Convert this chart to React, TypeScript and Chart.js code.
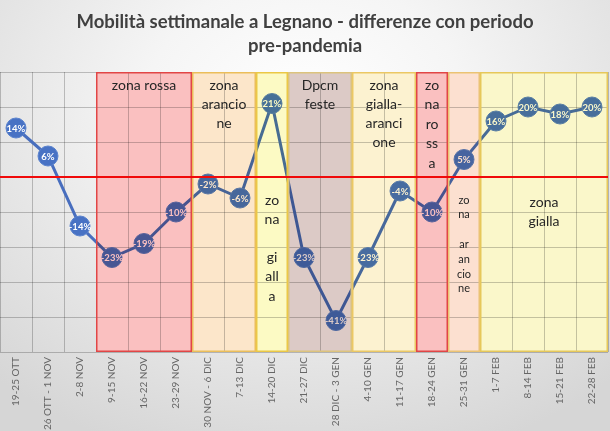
import React, { useEffect, useRef } from "react";
import { Chart, registerables } from "chart.js";

Chart.register(...registerables);

const titleLines = ["Mobilità settimanale a Legnano - differenze con periodo", "pre-pandemia"];

const weeks = [
  "19-25 OTT", "26 OTT - 1 NOV", "2-8 NOV", "9-15 NOV", "16-22 NOV", "23-29 NOV",
  "30 NOV - 6 DIC", "7-13 DIC", "14-20 DIC", "21-27 DIC", "28 DIC - 3 GEN", "4-10 GEN",
  "11-17 GEN", "18-24 GEN", "25-31 GEN", "1-7 FEB", "8-14 FEB", "15-21 FEB", "22-28 FEB",
];

const mobility = [14, 6, -14, -23, -19, -10, -2, -6, 21, -23, -41, -23, -4, -10, 5, 16, 20, 18, 20];

const yMin = -50;
const yMax = 30;
const yStep = 10;

// zones: first and last week index covered, and the label lines
const zoneFrom = [3, 6, 8, 9, 11, 13, 14, 15];
const zoneTo = [5, 7, 8, 10, 12, 13, 14, 18];
const zoneLabels = [
  ["zona rossa"],
  ["zona", "arancio", "ne"],
  ["zo", "na", "", "gi", "all", "a"],
  ["Dpcm", "feste"],
  ["zona", "gialla-", "aranci", "one"],
  ["zo", "na", "ro", "ss", "a"],
  ["zo", "na", "", "ar", "an", "cio", "ne"],
  ["zona", "gialla"],
];

// styles (kept apart from data)
const zoneFill = [
  "rgb(250, 192, 192)",
  "rgb(252, 230, 202)",
  "rgb(252, 250, 196)",
  "rgb(220, 202, 198)",
  "rgb(252, 242, 208)",
  "rgb(250, 192, 192)",
  "rgb(252, 224, 208)",
  "rgb(250, 247, 202)",
];
const zoneStroke = [
  "rgb(225, 70, 70)",
  "rgb(235, 190, 90)",
  "rgb(235, 200, 70)",
  "rgb(220, 195, 125)",
  "rgb(235, 200, 100)",
  "rgb(225, 70, 70)",
  "rgb(235, 195, 115)",
  "rgb(230, 200, 90)",
];
const zoneTextTop = [13, 13, 128, 13, 13, 13, 128, 130];
const zoneFontSize = [14, 14, 14, 14, 14, 14, 11, 14];
const zoneLineHeight = [19.3, 19.3, 19.2, 19.3, 19.3, 19.5, 14.8, 19.3];

const FONT = "Lato, 'Open Sans', sans-serif";

const overlayPlugin = {
  id: "overlay",
  afterDatasetsDraw(chart: any) {
    const { ctx, chartArea, scales } = chart;
    const x = scales.x;
    const y = scales.y;
    const meta = chart.getDatasetMeta(0);

    // point labels
    ctx.save();
    ctx.fillStyle = "#ffffff";
    ctx.font = `bold 9.5px ${FONT}`;
    ctx.textAlign = "center";
    ctx.textBaseline = "middle";
    meta.data.forEach((pt: any, i: number) => {
      ctx.fillText(`${mobility[i]}%`, pt.x, pt.y + 0.5);
    });
    ctx.restore();

    const half = (x.getPixelForValue(1) - x.getPixelForValue(0)) / 2;

    // zone boxes
    ctx.save();
    ctx.globalCompositeOperation = "multiply";
    zoneFrom.forEach((f, i) => {
      const l = x.getPixelForValue(f) - half;
      const r = x.getPixelForValue(zoneTo[i]) + half;
      ctx.fillStyle = zoneFill[i];
      ctx.fillRect(l, chartArea.top, r - l, chartArea.bottom - chartArea.top);
    });
    ctx.restore();
    ctx.save();
    zoneFrom.forEach((f, i) => {
      const l = x.getPixelForValue(f) - half;
      const r = x.getPixelForValue(zoneTo[i]) + half;
      ctx.strokeStyle = zoneStroke[i];
      ctx.lineWidth = 1.5;
      ctx.strokeRect(l + 0.75, chartArea.top + 0.75, r - l - 1.5, chartArea.bottom - chartArea.top - 1.5);
    });
    ctx.restore();

    // zero line
    ctx.save();
    const y0 = y.getPixelForValue(0);
    ctx.strokeStyle = "rgb(240, 10, 10)";
    ctx.lineWidth = 2;
    ctx.beginPath();
    ctx.moveTo(chartArea.left, y0);
    ctx.lineTo(chartArea.right, y0);
    ctx.stroke();
    ctx.restore();

    // zone texts
    ctx.save();
    ctx.fillStyle = "#262626";
    ctx.textAlign = "center";
    ctx.textBaseline = "middle";
    zoneLabels.forEach((lines, i) => {
      const l = x.getPixelForValue(zoneFrom[i]) - half;
      const r = x.getPixelForValue(zoneTo[i]) + half;
      const cx = (l + r) / 2;
      ctx.font = `${zoneFontSize[i]}px ${FONT}`;
      lines.forEach((t, k) => {
        if (t) ctx.fillText(t, cx, chartArea.top + zoneTextTop[i] + k * zoneLineHeight[i]);
      });
    });
    ctx.restore();
  },
  afterDraw(chart: any) {
    const { ctx } = chart;
    ctx.save();
    ctx.fillStyle = "#404040";
    ctx.font = `bold 18.5px ${FONT}`;
    ctx.textAlign = "center";
    ctx.textBaseline = "middle";
    titleLines.forEach((t, k) => ctx.fillText(t, 305, 22 + k * 24));
    ctx.restore();
  },
};

export default function App() {
  const ref = useRef<HTMLCanvasElement | null>(null);
  useEffect(() => {
    document.body.style.margin = "0";
    if (!ref.current) return;
    const chart = new Chart(ref.current, {
      type: "line",
      data: {
        labels: weeks,
        datasets: [
          {
            data: mobility,
            borderColor: "rgb(72, 110, 190)",
            borderWidth: 3,
            pointRadius: 10,
            pointHoverRadius: 10,
            pointBackgroundColor: "rgb(72, 114, 196)",
            pointBorderColor: "rgb(90, 130, 205)",
            pointBorderWidth: 1,
            tension: 0,
            clip: false,
          },
        ],
      },
      options: {
        animation: false,
        responsive: true,
        maintainAspectRatio: false,
        layout: { autoPadding: false, padding: { top: 72, left: 0, right: 2, bottom: 0 } },
        plugins: { legend: { display: false }, tooltip: { enabled: false }, title: { display: false } },
        scales: {
          x: {
            offset: true,
            grid: { offset: true, color: "rgba(0,0,0,0.22)", lineWidth: 1, drawTicks: false },
            border: { display: false },
            ticks: {
              autoSkip: false,
              maxRotation: 90,
              minRotation: 90,
              padding: 5,
              color: "#666666",
              font: { family: FONT, size: 10 },
            },
            afterFit: (s: any) => {
              s.height = 79;
              s.paddingLeft = 0;
              s.paddingRight = 0;
            },
          },
          y: {
            min: yMin,
            max: yMax,
            ticks: { stepSize: yStep, display: false },
            grid: { color: "rgba(0,0,0,0.22)", lineWidth: 1, drawTicks: false },
            border: { display: false },
            afterFit: (s: any) => {
              s.width = 0;
              s.paddingTop = 0;
              s.paddingBottom = 0;
            },
          },
        },
      },
      plugins: [overlayPlugin],
    });
    return () => chart.destroy();
  }, []);

  return (
    <div
      style={{
        position: "relative",
        width: 610,
        height: 431,
        background:
          "radial-gradient(ellipse 75% 85% at 50% 25%, #ffffff 0%, #f5f5f5 35%, #e2e2e2 75%, #d6d6d6 100%)",
      }}
    >
      <canvas ref={ref} />
    </div>
  );
}
